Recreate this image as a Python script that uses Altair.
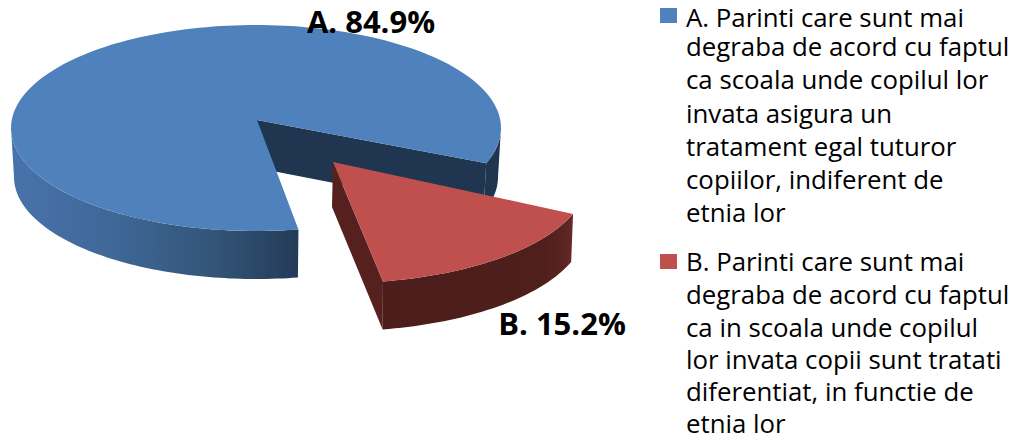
import math
import altair as alt

# ---- data ----
categories = ["A", "B"]
shares = [84.9, 15.2]
pie_labels = ["A. 84.9%", "B. 15.2%"]
legend_a = ["A. Parinti care sunt mai", "degraba de acord cu faptul", "ca scoala unde copilul lor",
            "invata asigura un", "tratament egal tuturor", "copiilor, indiferent de", "etnia lor"]
legend_b = ["B. Parinti care sunt mai", "degraba de acord cu faptul", "ca in scoala unde copilul",
            "lor invata copii sunt tratati", "diferentiat, in functie de", "etnia lor"]

W, H = 1003, 426
OX, OY = 8, 8   # page margin


def P(x, y):
    return [x - OX, y - OY]


def feature(points):
    ring = [P(*p) for p in points]
    ring.append(ring[0])
    return {"type": "Feature", "properties": {},
            "geometry": {"type": "Polygon", "coordinates": [ring]}}


def ell(cx, cy, a, b, t):
    r = math.radians(t)
    return (cx + a * math.cos(r), cy + b * math.sin(r))


def shape(points, fill):
    return (
        alt.Chart(alt.Data(values={"type": "FeatureCollection", "features": [feature(points)]},
                           format=alt.DataFormat(type="json", property="features")))
        .mark_geoshape(fill=fill, stroke=None, strokeWidth=0)
        .project(type="identity", scale=1, translate=[0, 0])
    )


def grad(stops):
    return alt.Gradient(gradient="linear", x1=0, y1=0, x2=1, y2=0,
                        stops=[alt.GradientStop(offset=o, color=c) for o, c in stops])


def wall(top, bot, t0, t1, n=60):
    ts = [t0 + (t1 - t0) * i / n for i in range(n + 1)]
    return [ell(*top, t) for t in ts] + [ell(*bot, t) for t in reversed(ts)]


# the exploded slice's sweep follows its share, slightly widened by the 3-D view
start = 20.0
sweep_b = shares[1] / sum(shares) * 360 * 1.098
end = start + sweep_b

top_blue = (256, 128, 245, 103)
bot_blue = (256, 177, 242, 102)
apex_blue = (257, 120)
apex_blue_b = (257, 168)
top_red = (340, 178, 248, 105)
bot_red = (340, 226, 246, 105)
apex_red = (333, 162)
apex_red_b = (332, 207)

DARK = "#1f3550"
layers = []

# blue: inner dark wall and far-right outer wall
layers.append(shape([apex_blue, ell(*top_blue, start), ell(*bot_blue, start), apex_blue_b], DARK))
layers.append(shape(wall(top_blue, bot_blue, 0, start, 20), DARK))
# blue: shaded front wall
layers.append(shape(wall(top_blue, bot_blue, end, 180, 80),
                    grad([(0, "#4873ab"), (0.35, "#3f6898"), (0.7, "#335578"), (1, "#243b58")])))
# blue: top face
sweep_a = 360 - sweep_b
layers.append(shape([apex_blue] + [ell(*top_blue, end + sweep_a * i / 180) for i in range(181)], "#4f81bd"))

# red: side wall, front wall, top face
layers.append(shape([apex_red, ell(*top_red, end), ell(*bot_red, end), apex_red_b], "#55201d"))
layers.append(shape(wall(top_red, bot_red, start, end, 40),
                    grad([(0, "#4c1d1b"), (0.85, "#4f1f1c"), (0.95, "#5a2422"), (1, "#652b29")])))
layers.append(shape([apex_red] + [ell(*top_red, start + (end - start) * i / 40) for i in range(41)], "#c0504d"))

xs = alt.X("x:Q", scale=alt.Scale(domain=[0, W], range=[0, W]), axis=None)
ys = alt.Y("y:Q", scale=alt.Scale(domain=[0, H], range=[0, H]), axis=None)

lab_pos = [(371, 33), (562, 335)]
labels = alt.Chart(alt.Data(values=[
    {"t": t, "x": p[0] - OX, "y": p[1] - OY} for t, p in zip(pie_labels, lab_pos)
])).mark_text(font="Open Sans", fontSize=31, fontWeight="bold", color="#000000", align="center",
              baseline="alphabetic").encode(x=xs, y=ys, text="t:N")

base_a = [27, 56, 89, 123, 156, 189, 222]
base_b = [271, 304, 337, 369, 401, 433]
rows = [{"t": t, "x": 686 - OX, "y": y - OY} for t, y in zip(legend_a + legend_b, base_a + base_b)]
legend_text = alt.Chart(alt.Data(values=rows)).mark_text(
    font="Open Sans", fontSize=25.8, color="#000000", align="left", baseline="alphabetic"
).encode(x=xs, y=ys, text="t:N")

swatches = alt.Chart(alt.Data(values=[
    {"x": 660 - OX, "x2": 677 - OX, "y": 8 - OY, "y2": 23 - OY, "c": "#4f81bd"},
    {"x": 660 - OX, "x2": 677 - OX, "y": 254 - OY, "y2": 269 - OY, "c": "#c0504d"},
])).mark_rect().encode(x=xs, x2="x2:Q", y=ys, y2="y2:Q", fill=alt.Color("c:N", scale=None))

chart = (
    alt.layer(*layers, labels, swatches, legend_text)
    .properties(width=W, height=H, padding=0, autosize=alt.AutoSizeParams(type="none"))
    .configure_view(stroke=None)
)
chart.save("out.html", embed_options={"renderer": "svg", "actions": False})
